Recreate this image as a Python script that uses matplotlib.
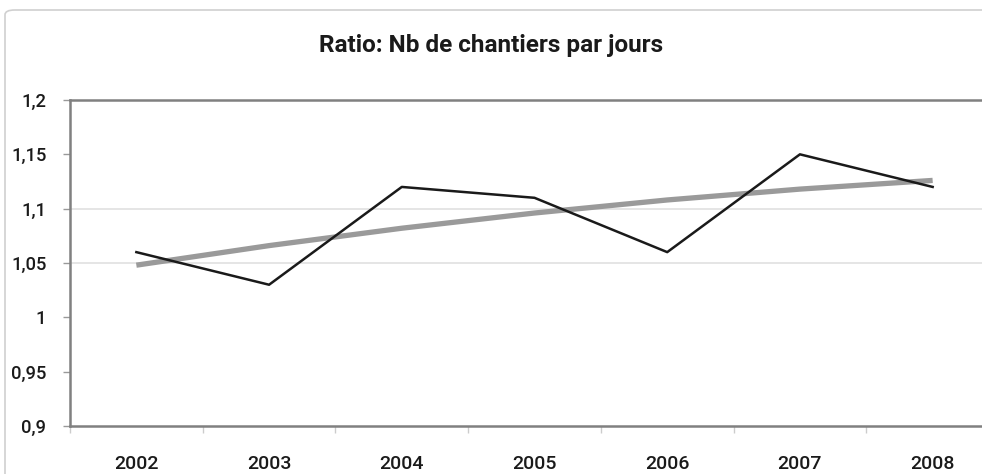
import matplotlib.pyplot as plt
from matplotlib.patches import FancyBboxPatch

years = ['2002', '2003', '2004', '2005', '2006', '2007', '2008']
ratio = [1.06, 1.03, 1.12, 1.11, 1.06, 1.15, 1.12]
# trend line values
trend = [1.048, 1.066, 1.082, 1.096, 1.108, 1.118, 1.126]
yticks = [0.9, 0.95, 1.0, 1.05, 1.1, 1.15, 1.2]
ytick_labels = ['0,9', '0,95', '1', '1,05', '1,1', '1,15', '1,2']

plt.rcParams['font.family'] = ['Roboto', 'DejaVu Sans']

W, H = 982, 474
fig = plt.figure(figsize=(W / 100, H / 100), dpi=100)

# outer chart frame
fig.patches.append(FancyBboxPatch((5 / W, -0.05), 1.1, 1 - 10 / H + 0.05,
                                  boxstyle='round,pad=0,rounding_size=0.01',
                                  transform=fig.transFigure, fill=False,
                                  edgecolor='#d0d0d0', linewidth=1.2))

left, right, top, bottom = 70, 999, 100, 426
ax = fig.add_axes([left / W, 1 - bottom / H, (right - left) / W, (bottom - top) / H])

x = list(range(len(years)))
for g in [1.05, 1.1]:
    ax.axhline(g, color='#e0e0e0', linewidth=1.2, zorder=0)

ax.plot(x, ratio, color='#1a1a1a', linewidth=1.8, zorder=3)
ax.plot(x, trend, color='#9a9a9a', linewidth=3.8, solid_capstyle='butt', zorder=2)

ax.set_xlim(-0.5, len(years) - 0.5)
ax.set_ylim(0.9, 1.2)
ax.set_yticks(yticks)
ax.set_yticklabels(ytick_labels)
ax.set_xticks([i - 0.5 for i in range(len(years) + 1)], minor=False)
ax.set_xticklabels([])
ax.set_xticks(x, minor=True)
ax.set_xticklabels(years, minor=True)
ax.tick_params(axis='x', which='major', length=5, color='#cccccc', width=1)
ax.tick_params(axis='x', which='minor', length=0, pad=21, labelsize=14)
ax.tick_params(axis='y', length=5, color='#999999', width=1, pad=12, labelsize=13.2)
for lab in ax.get_xticklabels(minor=True) + ax.get_yticklabels():
    lab.set_fontweight('medium')
    lab.set_color('#1a1a1a')

for side in ['left', 'bottom', 'top']:
    ax.spines[side].set_color('#808080')
    ax.spines[side].set_linewidth(1.8)
ax.spines['right'].set_visible(False)

fig.text(0.5, 1 - 45 / H, 'Ratio: Nb de chantiers par jours', ha='center', va='center',
         fontsize=17.5, fontweight='bold', color='#1a1a1a')

fig.savefig('out.png', dpi=100)
